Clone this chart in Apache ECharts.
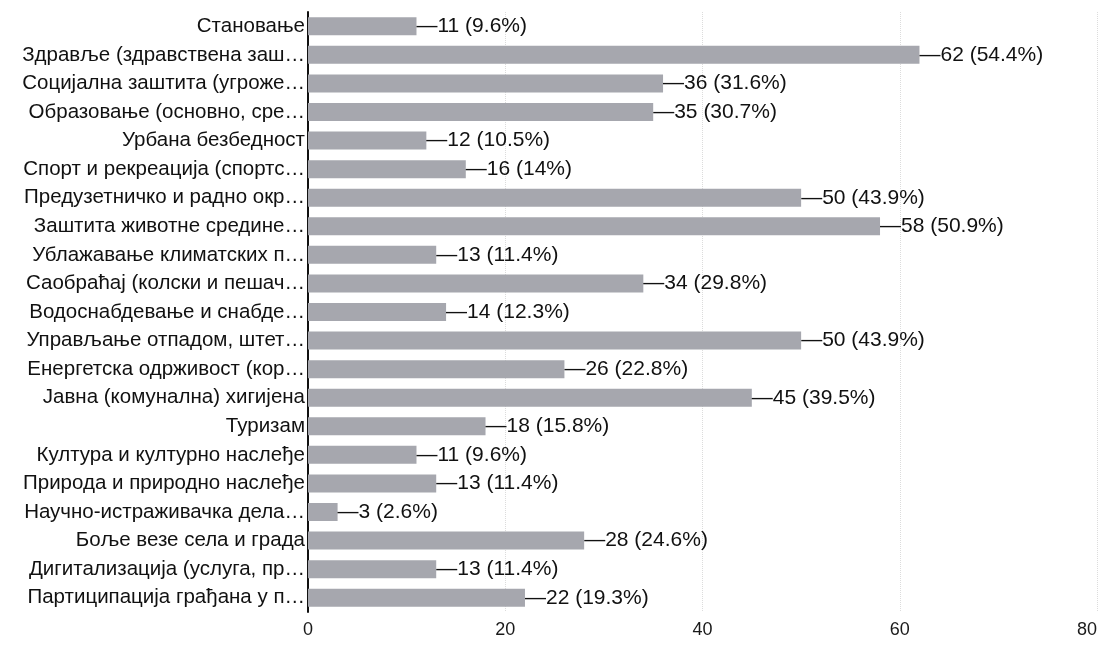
<!DOCTYPE html>
<html>
<head>
<meta charset="utf-8">
<script src="https://cdn.jsdelivr.net/npm/echarts@6/dist/echarts.min.js"></script>
<style>
  html, body { margin: 0; padding: 0; background: #fff; }
  #chart { width: 1101px; height: 660px; }
</style>
</head>
<body>
<div id="chart"></div>
<script>
// categories top to bottom as in the picture
const categories = [
  'Становање',
  'Здравље (здравствена заш…',
  'Социјална заштита (угроже…',
  'Образовање (основно, сре…',
  'Урбана безбедност',
  'Спорт и рекреација (спортс…',
  'Предузетничко и радно окр…',
  'Заштита животне средине…',
  'Ублажавање климатских п…',
  'Саобраћај (колски и пешач…',
  'Водоснабдевање и снабде…',
  'Управљање отпадом, штет…',
  'Енергетска одрживост (кор…',
  'Јавна (комунална) хигијена',
  'Туризам',
  'Култура и културно наслеђе',
  'Природа и природно наслеђе',
  'Научно-истраживачка дела…',
  'Боље везе села и града',
  'Дигитализација (услуга, пр…',
  'Партиципација грађана у п…'
]
const counts = [11, 62, 36, 35, 12, 16, 50, 58, 13, 34, 14, 50, 26, 45, 18, 11, 13, 3, 28, 13, 22]
const percents = ['9.6', '54.4', '31.6', '30.7', '10.5', '14', '43.9', '50.9', '11.4', '29.8', '12.3',
  '43.9', '22.8', '39.5', '15.8', '9.6', '11.4', '2.6', '24.6', '11.4', '19.3']
const ticks = [0, 20, 40, 60, 80]

const chart = echarts.init(document.getElementById('chart'))
const font = 'Liberation Sans, Arial, sans-serif'

chart.setOption({
  animation: false,
  backgroundColor: '#ffffff',
  grid: { left: 308, right: 4, top: 12, bottom: 48, outerBoundsMode: 'none' },
  xAxis: {
    type: 'value',
    min: ticks[0],
    max: ticks[ticks.length - 1],
    interval: 20,
    axisLine: { show: false },
    axisTick: { show: false },
    axisLabel: {
      color: '#1a1a1a', fontSize: 18, fontFamily: font, margin: 9,
      hideOverlap: false, alignMaxLabel: 'right'
    },
    splitLine: { show: true, lineStyle: { color: '#dcdcdc', type: 'dotted', width: 1 } }
  },
  yAxis: {
    type: 'category',
    inverse: true,
    data: categories,
    axisLine: { show: true, lineStyle: { color: '#111', width: 2 } },
    axisTick: { show: false },
    axisLabel: { color: '#111', fontSize: 20.5, fontFamily: font, margin: 3 }
  },
  series: [{
    type: 'bar',
    data: counts,
    barWidth: 18,
    itemStyle: { color: '#a6a7ae' },
    label: {
      show: true,
      position: 'right',
      distance: 0,
      color: '#111',
      fontSize: 21,
      fontFamily: font,
      formatter: p => '\u2014' + p.value + ' (' + percents[p.dataIndex] + '%)'
    }
  }]
})
</script>
</body>
</html>
